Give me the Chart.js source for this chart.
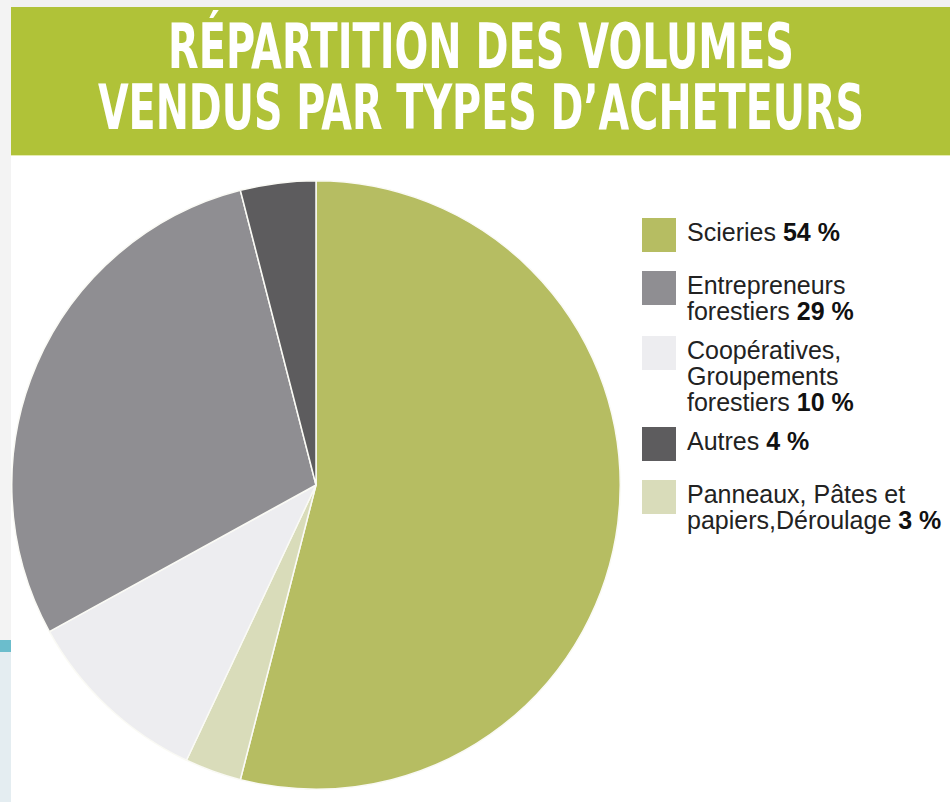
<!DOCTYPE html>
<html lang="fr">
<head>
<meta charset="utf-8">
<script src="https://cdn.jsdelivr.net/npm/chart.js@4"></script>
<style>
  html, body { margin: 0; padding: 0; background: #fff; }
  body { width: 950px; height: 802px; position: relative; overflow: hidden; font-family: "Liberation Sans", Arial, sans-serif; }
  .strip-top { position: absolute; left: 0; top: 0; width: 950px; height: 7px; background: #f1f1f1; }
  .strip-left { position: absolute; left: 0; top: 0; width: 11px; height: 640px; background: #f3f3f3; }
  .strip-teal { position: absolute; left: 0; top: 640px; width: 11px; height: 12px; background: #6bbdcc; }
  .strip-low { position: absolute; left: 0; top: 652px; width: 11px; height: 150px; background: #e4edf1; }
  .banner { position: absolute; left: 11px; top: 7px; width: 939px; height: 148px; background: #b0c238; border-bottom: 1px solid #e6ecb0; overflow: hidden; }
  .banner .line { position: absolute; left: 0; width: 100%; height: 63px; color: #fff; font-family: "Liberation Sans Narrow", "DejaVu Sans Condensed", "Liberation Sans", sans-serif; font-weight: bold; font-size: 63px; line-height: 63px; white-space: nowrap; }
  .banner .line span { position: absolute; left: 50%; top: 0; transform-origin: center; }
  #wrap { position: absolute; left: 11px; top: 180px; width: 610px; height: 610px; }
  #legend { position: absolute; left: 642px; top: 218px; display: flex; flex-direction: column; gap: 12px; }
  .item { display: flex; align-items: flex-start; min-height: 41px; }
  .box { width: 34px; height: 34px; flex: none; margin-right: 11px; }
  .txt { font-size: 25px; line-height: 26px; color: #222; white-space: nowrap; margin-top: 1px; }
  .txt b { color: #111; }
</style>
</head>
<body>
<div class="strip-top"></div>
<div class="strip-left"></div>
<div class="strip-teal"></div>
<div class="strip-low"></div>
<div class="banner">
  <div class="line" id="t1" style="top:8px"><span>RÉPARTITION DES VOLUMES</span></div>
  <div class="line" id="t2" style="top:69px"><span>VENDUS PAR TYPES D’ACHETEURS</span></div>
</div>
<div id="wrap"><canvas id="pie"></canvas></div>
<div id="legend"></div>
<script>
// Données (ordre du camembert, sens horaire depuis midi)
const categories = [
  ['Scieries'],
  ['Panneaux, Pâtes et', 'papiers,Déroulage'],
  ['Coopératives,', 'Groupements', 'forestiers'],
  ['Entrepreneurs', 'forestiers'],
  ['Autres']
];
const shares = [54, 3, 10, 29, 4];
const sliceColors = ['#b6bd62', '#d9dcba', '#ededf0', '#8f8e92', '#5d5c5e'];
const legendOrder = [0, 3, 2, 4, 1];

// Titre : ajuste la largeur de la police condensée
const targets = { t1: 626, t2: 766 };
for (const id in targets) {
  const span = document.querySelector('#' + id + ' span');
  const w = span.offsetWidth;
  span.style.transform = 'translateX(-50%) scaleX(' + (targets[id] / w) + ')';
}

// Légende
const legend = document.getElementById('legend');
legendOrder.forEach(i => {
  const item = document.createElement('div');
  item.className = 'item';
  const box = document.createElement('div');
  box.className = 'box';
  box.style.background = sliceColors[i];
  const txt = document.createElement('div');
  txt.className = 'txt';
  txt.innerHTML = categories[i].join('<br>') + ' <b>' + shares[i] + ' %</b>';
  item.appendChild(box);
  item.appendChild(txt);
  legend.appendChild(item);
});

// Graphique
new Chart(document.getElementById('pie'), {
  type: 'pie',
  data: {
    labels: categories.map(l => l.join(' ')),
    datasets: [{
      data: shares,
      backgroundColor: sliceColors,
      borderColor: '#fafaf5',
      borderWidth: 1.5
    }]
  },
  options: {
    responsive: true,
    maintainAspectRatio: false,
    animation: false,
    layout: { padding: 0 },
    plugins: {
      legend: { display: false },
      title: { display: false },
      tooltip: { enabled: false }
    }
  }
});
</script>
</body>
</html>
